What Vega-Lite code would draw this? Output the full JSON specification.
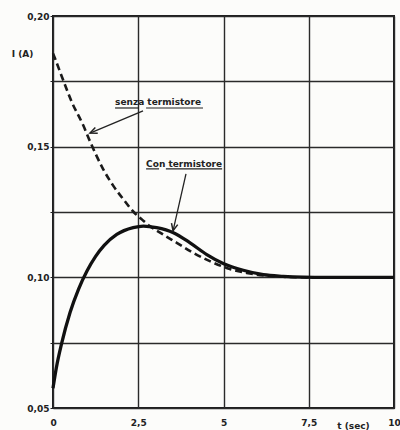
{
  "$schema": "https://vega.github.io/schema/vega-lite/v6.json",
  "width": 341,
  "height": 392,
  "autosize": {"type": "none"},
  "padding": {"left": 53, "top": 16, "right": 6, "bottom": 22},
  "background": "#fcfcfa",
  "config": {
    "view": {"stroke": "#1e1e1e", "strokeWidth": 2},
    "font": "DejaVu Sans",
    "axis": {"labelFont": "DejaVu Sans", "labelFontWeight": "bold", "labelFontSize": 9, "labelColor": "#222", "titleFont": "DejaVu Sans", "titleFontWeight": "bold", "titleFontSize": 9, "titleColor": "#222"}
  },
  "datasets": {
    "senza": [
      {"t": 0, "I": 0.1857}, {"t": 0.06, "I": 0.1837}, {"t": 0.3, "I": 0.1754}, {"t": 0.55, "I": 0.1671},
      {"t": 0.89, "I": 0.1581}, {"t": 1.09, "I": 0.1519}, {"t": 1.23, "I": 0.1478}, {"t": 1.47, "I": 0.1414},
      {"t": 1.77, "I": 0.135}, {"t": 2.06, "I": 0.1299}, {"t": 2.38, "I": 0.1248}, {"t": 2.6, "I": 0.1222},
      {"t": 2.84, "I": 0.1196}, {"t": 3.14, "I": 0.1171}, {"t": 3.63, "I": 0.1132}, {"t": 4.11, "I": 0.1094},
      {"t": 4.6, "I": 0.1062}, {"t": 5.09, "I": 0.1036}, {"t": 5.68, "I": 0.1017}, {"t": 6.17, "I": 0.1007},
      {"t": 6.74, "I": 0.1002}, {"t": 7.5, "I": 0.1}, {"t": 10, "I": 0.1}
    ],
    "con": [
      {"t": 0, "I": 0.0576}, {"t": 0.1, "I": 0.0655}, {"t": 0.25, "I": 0.0745}, {"t": 0.5, "I": 0.0865},
      {"t": 0.75, "I": 0.0955}, {"t": 1.0, "I": 0.1025}, {"t": 1.25, "I": 0.108}, {"t": 1.5, "I": 0.1122},
      {"t": 1.87, "I": 0.1164}, {"t": 2.35, "I": 0.119}, {"t": 2.65, "I": 0.1196}, {"t": 3.04, "I": 0.119},
      {"t": 3.53, "I": 0.1171}, {"t": 4.02, "I": 0.1132}, {"t": 4.51, "I": 0.1087}, {"t": 4.99, "I": 0.1053},
      {"t": 5.58, "I": 0.1027}, {"t": 6.17, "I": 0.101}, {"t": 6.75, "I": 0.1004}, {"t": 7.34, "I": 0.1001},
      {"t": 8, "I": 0.1}, {"t": 10, "I": 0.1}
    ],
    "labels": [
      {"text": "senza termistore", "t": 1.82, "I": 0.1671},
      {"text": "Con termistore", "t": 2.73, "I": 0.1434}
    ],
    "underlines": [
      {"t": 1.82, "t2": 2.52, "I": 0.1648},
      {"t": 2.73, "t2": 4.40, "I": 0.1648},
      {"t": 2.73, "t2": 3.11, "I": 0.1415},
      {"t": 3.31, "t2": 4.96, "I": 0.1415}
    ],
    "arrows": [
      {"name": "senza", "t": 2.64, "I": 0.1637, "t2": 1.085, "I2": 0.1552},
      {"name": "con", "t": 3.9, "I": 0.1396, "t2": 3.52, "I2": 0.1178}
    ]
  },
  "layer": [
    {
      "data": {"name": "senza"},
      "mark": {"type": "line", "color": "#1a1a1a", "strokeWidth": 2.6, "strokeDash": [7, 4], "interpolate": "monotone"},
      "encoding": {
        "x": {"field": "t", "type": "quantitative", "scale": {"domain": [0, 10], "nice": false, "zero": false},
          "axis": {"values": [0, 2.5, 5, 7.5, 10], "grid": true, "gridColor": "#2a2a2a", "gridWidth": 1.4, "ticks": false, "domain": false, "labelPadding": 10, "labelFlush": false, "labelExpr": "replace(format(datum.value, ''), '.', ',')", "title": "t (sec)", "titleX": 300, "titleY": 17, "titleAlign": "center", "titleBaseline": "middle"}},
        "y": {"field": "I", "type": "quantitative", "scale": {"domain": [0.05, 0.2], "nice": false, "zero": false},
          "axis": {"values": [0.05, 0.075, 0.1, 0.125, 0.15, 0.175, 0.2], "grid": true, "gridColor": "#2a2a2a", "gridWidth": 1.4, "tickSize": 3, "tickColor": "#222", "domain": false, "labelPadding": 1, "labelFlush": false, "labelExpr": "(datum.value * 1000) % 50 < 1 ? replace(format(datum.value, '.2f'), '.', ',') : ''", "title": "I (A)", "titleAngle": 0, "titleX": -31, "titleY": 37, "titleAlign": "center", "titleBaseline": "middle"}}
      }
    },
    {
      "data": {"name": "con"},
      "mark": {"type": "line", "color": "#111", "strokeWidth": 3.3, "interpolate": "monotone"},
      "encoding": {
        "x": {"field": "t", "type": "quantitative"},
        "y": {"field": "I", "type": "quantitative"}
      }
    },
    {
      "data": {"name": "labels"},
      "mark": {"type": "text", "align": "left", "baseline": "middle", "font": "DejaVu Sans", "fontWeight": "bold", "fontSize": 9, "color": "#222"},
      "encoding": {
        "x": {"field": "t", "type": "quantitative"},
        "y": {"field": "I", "type": "quantitative"},
        "text": {"field": "text"}
      }
    },
    {
      "data": {"name": "underlines"},
      "mark": {"type": "rule", "color": "#222", "strokeWidth": 1.2},
      "encoding": {
        "x": {"field": "t", "type": "quantitative"},
        "x2": {"field": "t2"},
        "y": {"field": "I", "type": "quantitative"}
      }
    },
    {
      "data": {"name": "arrows"},
      "mark": {"type": "rule", "color": "#222", "strokeWidth": 1.3},
      "encoding": {
        "x": {"field": "t", "type": "quantitative"},
        "y": {"field": "I", "type": "quantitative"},
        "x2": {"field": "t2"},
        "y2": {"field": "I2"}
      }
    },
    {
      "data": {"name": "arrows"},
      "transform": [{"filter": "datum.name == 'senza'"}],
      "mark": {"type": "point", "shape": "M-0.45,1 L0,0 L0.45,1", "filled": false, "stroke": "#222", "strokeWidth": 1.5, "opacity": 1, "size": 200, "angle": 247.8},
      "encoding": {
        "x": {"field": "t2", "type": "quantitative"},
        "y": {"field": "I2", "type": "quantitative"}
      }
    },
    {
      "data": {"name": "arrows"},
      "transform": [{"filter": "datum.name == 'con'"}],
      "mark": {"type": "point", "shape": "M-0.45,1 L0,0 L0.45,1", "filled": false, "stroke": "#222", "strokeWidth": 1.5, "opacity": 1, "size": 200, "angle": 192.8},
      "encoding": {
        "x": {"field": "t2", "type": "quantitative"},
        "y": {"field": "I2", "type": "quantitative"}
      }
    }
  ]
}
